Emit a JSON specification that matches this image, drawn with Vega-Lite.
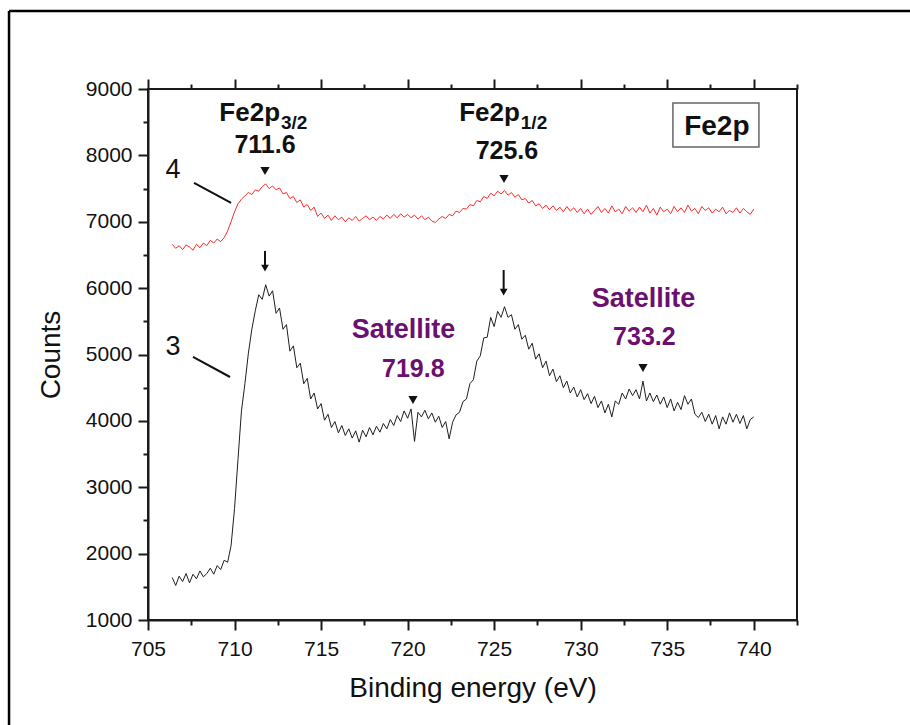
{
"$schema": "https://vega.github.io/schema/vega-lite/v6.json",
"width": 649, "height": 531,
"autosize": {"type": "none"},
"padding": {"left": 148, "top": 89, "right": 113, "bottom": 105},
"background": "white",
"config": {
 "view": {"stroke": "#1a1a1a", "strokeWidth": 2},
 "font": "Liberation Sans",
 "axis": {"domainColor": "#1a1a1a", "domainWidth": 2, "tickColor": "#1a1a1a", "tickWidth": 2, "labelColor": "#111111", "titleColor": "#111111", "labelFont": "Liberation Sans", "titleFont": "Liberation Sans", "labelFontSize": 21, "titleFontSize": 27, "titleFontWeight": "normal", "grid": false, "labelOverlap": false, "labelFlush": false}
},
"datasets": {
 "spec": [
  {"e":706.4,"b":1640,"r":6660},{"e":706.6,"b":1520,"r":6600},{"e":706.8,"b":1660,"r":6640},{"e":707.0,"b":1580,"r":6580},{"e":707.2,"b":1700,"r":6650},{"e":707.4,"b":1560,"r":6620},{"e":707.6,"b":1690,"r":6570},{"e":707.8,"b":1620,"r":6660},{"e":708.0,"b":1740,"r":6610},{"e":708.2,"b":1650,"r":6680},
  {"e":708.4,"b":1700,"r":6640},{"e":708.6,"b":1780,"r":6720},{"e":708.8,"b":1690,"r":6680},{"e":709.0,"b":1820,"r":6740},{"e":709.2,"b":1760,"r":6700},{"e":709.4,"b":1900,"r":6760},{"e":709.6,"b":1870,"r":6860},{"e":709.8,"b":2120,"r":7000},{"e":710.0,"b":2680,"r":7150},{"e":710.2,"b":3420,"r":7270},
  {"e":710.4,"b":4150,"r":7340},{"e":710.6,"b":4560,"r":7390},{"e":710.8,"b":5020,"r":7440},{"e":711.0,"b":5380,"r":7410},{"e":711.2,"b":5660,"r":7480},{"e":711.4,"b":5900,"r":7460},{"e":711.6,"b":5830,"r":7530},{"e":711.8,"b":6050,"r":7570},{"e":712.0,"b":5880,"r":7500},{"e":712.2,"b":5960,"r":7540},
  {"e":712.4,"b":5620,"r":7480},{"e":712.6,"b":5700,"r":7510},{"e":712.8,"b":5380,"r":7420},{"e":713.0,"b":5450,"r":7440},{"e":713.2,"b":5050,"r":7350},{"e":713.4,"b":5130,"r":7380},{"e":713.6,"b":4800,"r":7290},{"e":713.8,"b":4870,"r":7330},{"e":714.0,"b":4560,"r":7220},{"e":714.2,"b":4640,"r":7260},
  {"e":714.4,"b":4330,"r":7170},{"e":714.6,"b":4420,"r":7220},{"e":714.8,"b":4180,"r":7080},{"e":715.0,"b":4260,"r":7130},{"e":715.2,"b":4010,"r":7050},{"e":715.4,"b":4100,"r":7100},{"e":715.6,"b":3900,"r":7020},{"e":715.8,"b":3990,"r":7090},{"e":716.0,"b":3820,"r":7030},{"e":716.2,"b":3930,"r":7070},
  {"e":716.4,"b":3780,"r":7000},{"e":716.6,"b":3880,"r":7060},{"e":716.8,"b":3740,"r":7020},{"e":717.0,"b":3850,"r":7080},{"e":717.2,"b":3680,"r":7010},{"e":717.4,"b":3860,"r":7050},{"e":717.6,"b":3760,"r":7090},{"e":717.8,"b":3900,"r":7030},{"e":718.0,"b":3790,"r":7070},{"e":718.2,"b":3920,"r":7020},
  {"e":718.4,"b":3830,"r":7080},{"e":718.6,"b":3960,"r":7040},{"e":718.8,"b":3880,"r":7100},{"e":719.0,"b":4020,"r":7050},{"e":719.2,"b":3930,"r":7110},{"e":719.4,"b":4080,"r":7060},{"e":719.6,"b":3990,"r":7120},{"e":719.8,"b":4150,"r":7070},{"e":720.0,"b":4040,"r":7110},{"e":720.2,"b":4180,"r":7060},
  {"e":720.4,"b":3690,"r":7100},{"e":720.6,"b":4130,"r":7040},{"e":720.8,"b":4060,"r":7090},{"e":721.0,"b":4160,"r":7030},{"e":721.2,"b":4030,"r":7070},{"e":721.4,"b":4120,"r":7010},{"e":721.6,"b":3980,"r":6990},{"e":721.8,"b":4070,"r":7040},{"e":722.0,"b":3900,"r":7080},{"e":722.2,"b":3990,"r":7050},
  {"e":722.4,"b":3730,"r":7110},{"e":722.6,"b":3980,"r":7090},{"e":722.8,"b":4090,"r":7160},{"e":723.0,"b":4130,"r":7140},{"e":723.2,"b":4290,"r":7200},{"e":723.4,"b":4330,"r":7190},{"e":723.6,"b":4560,"r":7260},{"e":723.8,"b":4620,"r":7240},{"e":724.0,"b":4900,"r":7320},{"e":724.2,"b":4980,"r":7300},
  {"e":724.4,"b":5250,"r":7380},{"e":724.6,"b":5260,"r":7350},{"e":724.8,"b":5560,"r":7430},{"e":725.0,"b":5420,"r":7390},{"e":725.2,"b":5650,"r":7460},{"e":725.4,"b":5560,"r":7420},{"e":725.6,"b":5720,"r":7470},{"e":725.8,"b":5560,"r":7400},{"e":726.0,"b":5600,"r":7440},{"e":726.2,"b":5380,"r":7370},
  {"e":726.4,"b":5450,"r":7410},{"e":726.6,"b":5230,"r":7330},{"e":726.8,"b":5290,"r":7350},{"e":727.0,"b":5080,"r":7280},{"e":727.2,"b":5170,"r":7320},{"e":727.4,"b":4930,"r":7240},{"e":727.6,"b":5010,"r":7270},{"e":727.8,"b":4800,"r":7200},{"e":728.0,"b":4900,"r":7250},{"e":728.2,"b":4680,"r":7180},
  {"e":728.4,"b":4780,"r":7240},{"e":728.6,"b":4590,"r":7170},{"e":728.8,"b":4680,"r":7220},{"e":729.0,"b":4500,"r":7150},{"e":729.2,"b":4600,"r":7230},{"e":729.4,"b":4420,"r":7160},{"e":729.6,"b":4510,"r":7210},{"e":729.8,"b":4360,"r":7140},{"e":730.0,"b":4470,"r":7200},{"e":730.2,"b":4320,"r":7120},
  {"e":730.4,"b":4410,"r":7190},{"e":730.6,"b":4260,"r":7110},{"e":730.8,"b":4370,"r":7170},{"e":731.0,"b":4200,"r":7230},{"e":731.2,"b":4300,"r":7140},{"e":731.4,"b":4120,"r":7200},{"e":731.6,"b":4250,"r":7130},{"e":731.8,"b":4060,"r":7240},{"e":732.0,"b":4300,"r":7150},{"e":732.2,"b":4250,"r":7190},
  {"e":732.4,"b":4420,"r":7120},{"e":732.6,"b":4330,"r":7230},{"e":732.8,"b":4480,"r":7160},{"e":733.0,"b":4380,"r":7210},{"e":733.2,"b":4470,"r":7140},{"e":733.4,"b":4330,"r":7220},{"e":733.6,"b":4600,"r":7150},{"e":733.8,"b":4300,"r":7250},{"e":734.0,"b":4420,"r":7130},{"e":734.2,"b":4290,"r":7200},
  {"e":734.4,"b":4390,"r":7100},{"e":734.6,"b":4250,"r":7220},{"e":734.8,"b":4360,"r":7150},{"e":735.0,"b":4200,"r":7190},{"e":735.2,"b":4330,"r":7120},{"e":735.4,"b":4150,"r":7230},{"e":735.6,"b":4280,"r":7150},{"e":735.8,"b":4170,"r":7210},{"e":736.0,"b":4380,"r":7140},{"e":736.2,"b":4250,"r":7250},
  {"e":736.4,"b":4330,"r":7160},{"e":736.6,"b":4100,"r":7200},{"e":736.8,"b":4050,"r":7120},{"e":737.0,"b":4130,"r":7230},{"e":737.2,"b":3990,"r":7170},{"e":737.4,"b":4100,"r":7210},{"e":737.6,"b":3950,"r":7130},{"e":737.8,"b":4080,"r":7190},{"e":738.0,"b":3880,"r":7150},{"e":738.2,"b":4060,"r":7220},
  {"e":738.4,"b":3950,"r":7120},{"e":738.6,"b":4120,"r":7170},{"e":738.8,"b":3980,"r":7140},{"e":739.0,"b":4100,"r":7210},{"e":739.2,"b":3960,"r":7130},{"e":739.4,"b":4080,"r":7200},{"e":739.6,"b":3880,"r":7150},{"e":739.8,"b":4020,"r":7110},{"e":740.0,"b":4060,"r":7190}
 ],
 "vals": [{"x":711.76,"y":8036,"t":"711.6"},{"x":725.74,"y":7945,"t":"725.6"}],
 "fe": [{"x":712.63,"y":8520,"t":"Fe2p"},{"x":726.49,"y":8520,"t":"Fe2p"}],
 "sub": [{"x":712.68,"y":8400,"t":"3/2"},{"x":726.54,"y":8400,"t":"1/2"}],
 "sat": [{"x":719.76,"y":5249,"t":"Satellite"},{"x":733.63,"y":5716,"t":"Satellite"}],
 "satv": [{"x":720.33,"y":4661,"t":"719.8"},{"x":733.68,"y":5143,"t":"733.2"}],
 "num": [{"x":706.44,"y":7659,"t":"4"},{"x":706.44,"y":4993,"t":"3"}],
 "tri": [{"x":711.76,"y":7765},{"x":725.57,"y":7644},{"x":720.31,"y":4315},{"x":733.6,"y":4797}],
 "heads": [{"x":711.76,"y":6300},{"x":725.55,"y":5940}],
 "shafts": [{"x":711.76,"y":6560,"y2":6300},{"x":725.55,"y":6273,"y2":5940}],
 "leaders": [{"x":707.66,"y":7584,"x2":709.80,"y2":7283},{"x":707.60,"y":4963,"x2":709.74,"y2":4661}],
 "one": [{}]
},
"layer": [
 {
  "data": {"name": "spec"},
  "mark": {"type": "line", "color": "#1f1f1f", "strokeWidth": 1},
  "encoding": {
   "x": {"field": "e", "type": "quantitative", "scale": {"domain": [705, 742.5], "nice": false, "zero": false},
    "axis": {"orient": "bottom", "values": [705,707.5,710,712.5,715,717.5,720,722.5,725,727.5,730,732.5,735,737.5,740,742.5],
     "labelExpr": "datum.value % 5 === 0 ? format(datum.value, 'd') : ''",
     "tickSize": {"condition": {"test": "datum.value % 5 === 0", "value": 10}, "value": 5},
     "labelPadding": 8, "title": "Binding energy (eV)", "titleFontSize": 28, "titlePadding": 15}},
   "y": {"field": "b", "type": "quantitative", "scale": {"domain": [1000, 9000], "nice": false, "zero": false},
    "axis": {"orient": "left", "values": [1000,1500,2000,2500,3000,3500,4000,4500,5000,5500,6000,6500,7000,7500,8000,8500,9000],
     "labelExpr": "datum.value % 1000 === 0 ? format(datum.value, 'd') : ''",
     "tickSize": {"condition": {"test": "datum.value % 1000 === 0", "value": 10}, "value": 5},
     "labelPadding": 6, "title": "Counts", "titleFontSize": 28, "titlePadding": 20}}
  }
 },
 {
  "data": {"name": "spec"},
  "mark": {"type": "line", "color": "#ff2a2a", "strokeWidth": 1},
  "encoding": {
   "x": {"field": "e", "type": "quantitative",
    "axis": {"orient": "top", "values": [705,707.5,710,712.5,715,717.5,720,722.5,725,727.5,730,732.5,735,737.5,740,742.5],
     "labels": false, "title": null, "domain": false,
     "tickSize": {"condition": {"test": "datum.value % 5 === 0", "value": 10}, "value": 5}}},
   "y": {"field": "r", "type": "quantitative", "axis": null}
  }
 },
 {
  "data": {"name": "leaders"},
  "mark": {"type": "rule", "color": "#111111", "strokeWidth": 2},
  "encoding": {
   "x": {"field": "x", "type": "quantitative", "axis": null}, "x2": {"field": "x2"},
   "y": {"field": "y", "type": "quantitative", "axis": null}, "y2": {"field": "y2"}
  }
 },
 {
  "data": {"name": "shafts"},
  "mark": {"type": "rule", "color": "#111111", "strokeWidth": 2},
  "encoding": {
   "x": {"field": "x", "type": "quantitative", "axis": null},
   "y": {"field": "y", "type": "quantitative", "axis": null}, "y2": {"field": "y2"}
  }
 },
 {
  "data": {"name": "heads"},
  "mark": {"type": "point", "shape": "triangle-down", "filled": true, "color": "#111111", "size": 60, "opacity": 1},
  "encoding": {
   "x": {"field": "x", "type": "quantitative", "axis": null},
   "y": {"field": "y", "type": "quantitative", "axis": null}
  }
 },
 {
  "data": {"name": "tri"},
  "mark": {"type": "point", "shape": "triangle-down", "filled": true, "color": "#111111", "size": 85, "opacity": 1},
  "encoding": {
   "x": {"field": "x", "type": "quantitative", "axis": null},
   "y": {"field": "y", "type": "quantitative", "axis": null}
  }
 },
 {
  "data": {"name": "vals"},
  "mark": {"type": "text", "fontWeight": "bold", "fontSize": 25, "align": "center", "baseline": "alphabetic", "color": "#111111"},
  "encoding": {
   "x": {"field": "x", "type": "quantitative", "axis": null},
   "y": {"field": "y", "type": "quantitative", "axis": null},
   "text": {"field": "t"}
  }
 },
 {
  "data": {"name": "fe"},
  "mark": {"type": "text", "fontWeight": "bold", "fontSize": 26, "align": "right", "baseline": "alphabetic", "color": "#111111"},
  "encoding": {
   "x": {"field": "x", "type": "quantitative", "axis": null},
   "y": {"field": "y", "type": "quantitative", "axis": null},
   "text": {"field": "t"}
  }
 },
 {
  "data": {"name": "sub"},
  "mark": {"type": "text", "fontWeight": "bold", "fontSize": 19, "align": "left", "baseline": "alphabetic", "color": "#111111"},
  "encoding": {
   "x": {"field": "x", "type": "quantitative", "axis": null},
   "y": {"field": "y", "type": "quantitative", "axis": null},
   "text": {"field": "t"}
  }
 },
 {
  "data": {"name": "sat"},
  "mark": {"type": "text", "fontWeight": "bold", "fontSize": 27, "align": "center", "baseline": "alphabetic", "color": "#6b1070"},
  "encoding": {
   "x": {"field": "x", "type": "quantitative", "axis": null},
   "y": {"field": "y", "type": "quantitative", "axis": null},
   "text": {"field": "t"}
  }
 },
 {
  "data": {"name": "satv"},
  "mark": {"type": "text", "fontWeight": "bold", "fontSize": 25, "align": "center", "baseline": "alphabetic", "color": "#6b1070"},
  "encoding": {
   "x": {"field": "x", "type": "quantitative", "axis": null},
   "y": {"field": "y", "type": "quantitative", "axis": null},
   "text": {"field": "t"}
  }
 },
 {
  "data": {"name": "num"},
  "mark": {"type": "text", "fontSize": 27, "align": "center", "baseline": "alphabetic", "color": "#111111"},
  "encoding": {
   "x": {"field": "x", "type": "quantitative", "axis": null},
   "y": {"field": "y", "type": "quantitative", "axis": null},
   "text": {"field": "t"}
  }
 },
 {
  "data": {"name": "one"},
  "mark": {"type": "rect", "fill": null, "stroke": "#666666", "strokeWidth": 1.5},
  "encoding": {
   "x": {"datum": 735.33, "type": "quantitative", "axis": null}, "x2": {"datum": 740.3},
   "y": {"datum": 8789, "type": "quantitative", "axis": null}, "y2": {"datum": 8126}
  }
 },
 {
  "data": {"name": "one"},
  "mark": {"type": "text", "fontWeight": "bold", "fontSize": 28, "align": "center", "baseline": "alphabetic", "color": "#111111", "text": "Fe2p"},
  "encoding": {
   "x": {"datum": 737.87, "type": "quantitative", "axis": null},
   "y": {"datum": 8307, "type": "quantitative", "axis": null}
  }
 },
 {
  "data": {"name": "one"},
  "mark": {"type": "rule", "color": "#000000", "strokeWidth": 2.5},
  "encoding": {
   "x": {"datum": 696.97, "type": "quantitative", "axis": null}, "x2": {"datum": 760},
   "y": {"datum": 10175, "type": "quantitative", "axis": null}
  }
 },
 {
  "data": {"name": "one"},
  "mark": {"type": "rule", "color": "#000000", "strokeWidth": 2.5},
  "encoding": {
   "x": {"datum": 696.97, "type": "quantitative", "axis": null},
   "y": {"datum": 10175, "type": "quantitative", "axis": null}, "y2": {"datum": -700}
  }
 }
],
"resolve": {"axis": {"x": "independent", "y": "independent"}}
}
